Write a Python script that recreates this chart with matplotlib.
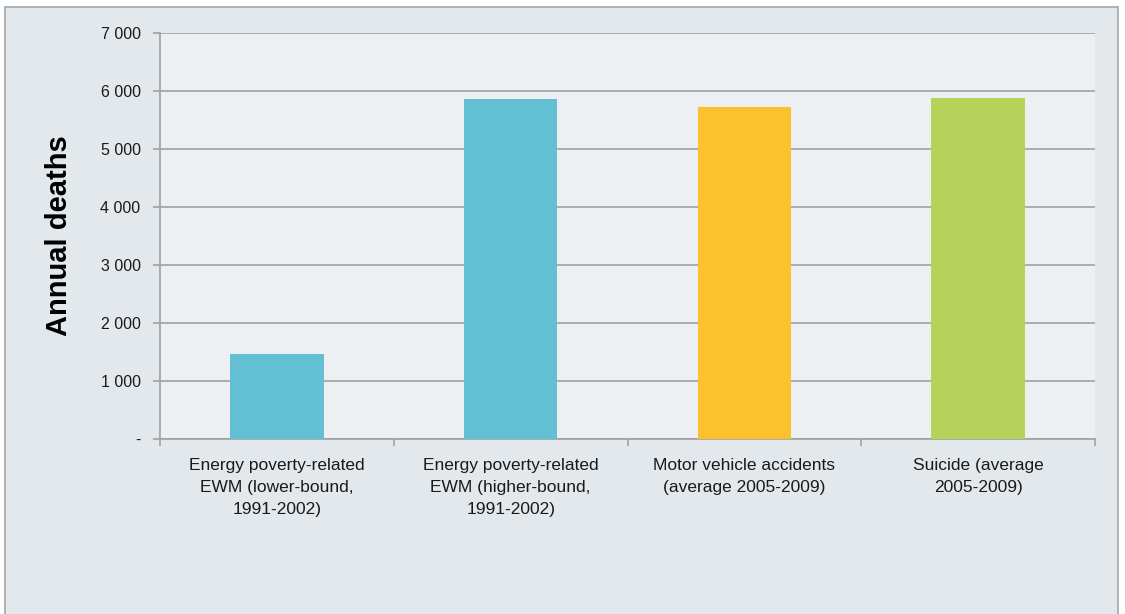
import matplotlib.pyplot as plt
import matplotlib.patches as mpatches
import numpy as np

plt.rcParams['font.family'] = ['Liberation Sans', 'DejaVu Sans']

categories = ["Energy poverty-related\nEWM (lower-bound,\n1991-2002)",
              "Energy poverty-related\nEWM (higher-bound,\n1991-2002)",
              "Motor vehicle accidents\n(average 2005-2009)",
              "Suicide (average\n2005-2009)"]
deaths = [1470, 5870, 5730, 5880]
colors = ["#62BFD4", "#62BFD4", "#FBC22E", "#B6D25B"]
yticks = [0, 1000, 2000, 3000, 4000, 5000, 6000, 7000]
ytick_labels = ["-", "1 000", "2 000", "3 000", "4 000", "5 000", "6 000", "7 000"]

fig = plt.figure(figsize=(11.25, 6.14), dpi=100)
fig.patch.set_facecolor("white")
# outer chart frame, drawn behind the axes
frame = mpatches.Rectangle((5 / 1125, -0.01), 1113 / 1125, 1 - 7 / 614 + 0.01,
                           transform=fig.transFigure, facecolor="#E3E8EC",
                           edgecolor="#A6A6A6", linewidth=1.2, zorder=-10)
fig.patches.append(frame)

ax = fig.add_axes([160 / 1125, 1 - 439 / 614, 935 / 1125, 406 / 614])
ax.set_zorder(1)
ax.set_facecolor("#EDF0F2")

x = np.arange(len(categories))
ax.bar(x, deaths, width=0.4, color=colors, zorder=3)

ax.set_xlim(-0.5, len(categories) - 0.5)
ax.set_ylim(0, 7000)
ax.set_yticks(yticks)
ax.set_yticklabels(ytick_labels, fontsize=11.5, color="#1a1a1a")
ax.yaxis.grid(True, color="#A0A0A0", linewidth=1.2, zorder=1)
ax.set_axisbelow(True)

ax.set_xticks(x)
ax.set_xticklabels(categories, fontsize=12.5, color="#1a1a1a", linespacing=1.55)
ax.tick_params(axis="x", length=0, pad=14)
ax.set_xticks(np.arange(-0.5, len(categories)), minor=True)
ax.tick_params(axis="x", which="minor", length=5, color="#A0A0A0", width=1.2)
ax.tick_params(axis="y", length=5, color="#A0A0A0", width=1.2, pad=9)

for side in ["top", "right"]:
    ax.spines[side].set_visible(False)
for side in ["left", "bottom"]:
    ax.spines[side].set_color("#A0A0A0")
    ax.spines[side].set_linewidth(1.2)

ax.set_ylabel("Annual deaths", fontsize=21, fontweight="bold")
ax.yaxis.set_label_coords(-0.093, 0.5)

fig.savefig("out.png", dpi=100)
